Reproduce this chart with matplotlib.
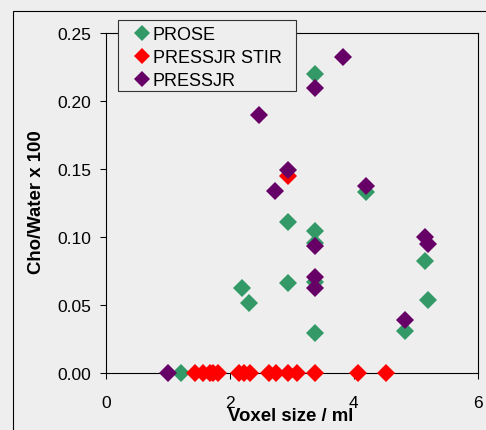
# coding: utf-8
# Cho/Water ratio against voxel size for three sequences
import matplotlib
matplotlib.use("Agg")
import matplotlib.pyplot as plt
from matplotlib.patches import Rectangle
from matplotlib.ticker import FormatStrFormatter

plt.rcParams['font.family'] = ['Liberation Sans', 'DejaVu Sans']

# Data
prose_x = [1.21, 2.20, 2.31, 2.94, 2.94, 3.37, 3.37, 3.37, 3.37, 3.37, 4.20, 5.15, 5.20, 4.83]
prose_y = [0.0, 0.0627, 0.0514, 0.1114, 0.0663, 0.2199, 0.1045, 0.0955, 0.0670, 0.0296, 0.1330, 0.0823, 0.0536, 0.0311]

stir_x = [1.44, 1.57, 1.68, 1.73, 1.81, 2.14, 2.22, 2.32, 2.63, 2.74, 2.93, 3.09, 3.37, 4.07, 4.52, 2.94]
stir_y = [0.0, 0.0, 0.0, 0.0, 0.0, 0.0, 0.0, 0.0, 0.0, 0.0, 0.0, 0.0, 0.0, 0.0, 0.0, 0.1452]

pressjr_x = [1.0, 3.82, 3.37, 2.475, 2.94, 2.73, 4.20, 3.37, 3.37, 3.37, 4.83, 5.15, 5.20]
pressjr_y = [0.0, 0.2326, 0.2094, 0.1898, 0.1496, 0.1337, 0.1378, 0.0933, 0.0710, 0.0625, 0.0394, 0.0999, 0.0950]

series_names = ['PROSE', 'PRESSJR STIR', 'PRESSJR']
series_colors = ['#339966', '#ff0000', '#660066']

x_ticks = [0, 2, 4, 6]
y_ticks = [0.0, 0.05, 0.10, 0.15, 0.20, 0.25]

W, H = 486, 431
fig = plt.figure(figsize=(W / 100, H / 100), dpi=100, facecolor='#eeeeee')
ax = fig.add_axes([106 / W, 1 - 374.3 / H, (477.7 - 106) / W, (374.3 - 34) / H])
ax.set_facecolor('#eeeeee')

series = [(prose_x, prose_y), (stir_x, stir_y), (pressjr_x, pressjr_y)]
for (xs, ys), name, col in zip(series, series_names, series_colors):
    ax.plot(xs, ys, linestyle='none', marker='D', ms=9.3, mew=0,
            color=col, label=name, clip_on=False, zorder=3)

ax.set_xlim(0, 6)
ax.set_ylim(0, 0.25)
ax.set_xticks(x_ticks)
ax.set_yticks(y_ticks)
ax.yaxis.set_major_formatter(FormatStrFormatter('%.2f'))
ax.tick_params(axis='both', direction='out', length=4.3, width=0.75,
               labelsize=12.5, color='black')
ax.tick_params(axis='y', pad=6.5)
ax.tick_params(axis='x', pad=11)
for sp in ax.spines.values():
    sp.set_linewidth(0.8)
    sp.set_color('black')

ax.set_xlabel('Voxel size / ml', fontsize=13.4, fontweight='bold')
ax.set_ylabel('Cho/Water x 100', fontsize=13.4, fontweight='bold')
ax.xaxis.label.set_va('center')
ax.yaxis.label.set_va('center')
ax.xaxis.set_label_coords((291 - 106) / 371.7, (374.3 - 417) / 340.3)
ax.yaxis.set_label_coords((36 - 106) / 371.7, (374.3 - 202.5) / 340.3)

# legend box
box = Rectangle((117.7 / W, 1 - 91.7 / H), (296 - 117.7) / W, (91.7 - 20.7) / H,
                transform=fig.transFigure, facecolor='#eeeeee',
                edgecolor='#333333', linewidth=0.8, zorder=5)
fig.add_artist(box)
handles, labels = ax.get_legend_handles_labels()
leg = fig.legend(handles, labels, loc='upper left',
                 bbox_to_anchor=(134.5 / W, 1 - 27.5 / H),
                 bbox_transform=fig.transFigure, frameon=False,
                 fontsize=13, borderpad=0, borderaxespad=0,
                 handlelength=0.8, handletextpad=0.21,
                 labelspacing=0.32, numpoints=1, markerscale=0.85)
leg.set_zorder(6)

# outer chart border
outer = Rectangle((12.7 / W, -0.1), 1.2, 0.1 + 1 - 11.7 / H,
                  transform=fig.transFigure, fill=False,
                  edgecolor='black', linewidth=0.8, zorder=4)
fig.add_artist(outer)

fig.savefig('out.png', dpi=100, facecolor=fig.get_facecolor())
